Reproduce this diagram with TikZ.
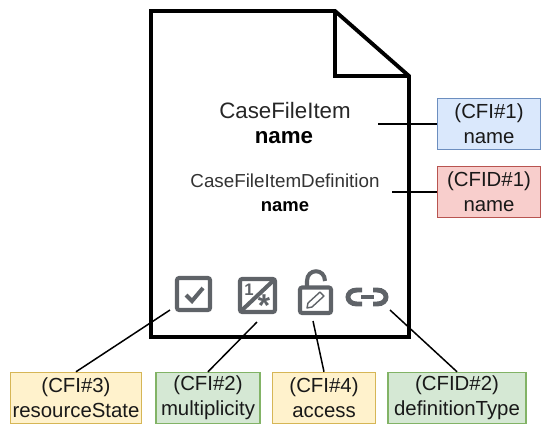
\documentclass[tikz,border=0pt]{standalone}
\usepackage{fontspec}
\setmainfont{Liberation Sans}
\definecolor{c1}{HTML}{DAE8FC}
\definecolor{c2}{HTML}{F8CECC}
\definecolor{c3}{HTML}{FFF2CC}
\definecolor{c4}{HTML}{D5E8D4}
\definecolor{d1}{HTML}{6C8EBF}
\definecolor{d2}{HTML}{B85450}
\definecolor{d3}{HTML}{D6B656}
\definecolor{d4}{HTML}{82B366}
\definecolor{icongray}{HTML}{5F6368}
\tikzset{
  attr/.style={rectangle, line width=0.85pt, minimum height=1.02cm, inner sep=0pt, align=center, text=black!90, font=\fontsize{11.6}{14.4}\selectfont},
  attr_blue/.style={attr, draw=d1, fill=c1},
  attr_red/.style={attr, draw=d2, fill=c2},
  attr_yellow/.style={attr, draw=d3, fill=c3},
  attr_green/.style={attr, draw=d4, fill=c4},
  lead/.style={line width=0.85pt, black},
  sheet/.style={line width=2.2pt, black, line join=miter},
  icon/.style={line width=2.3pt, icongray, rounded corners=1.2pt},
}

\begin{document}
\begin{tikzpicture}[x=0.02cm, y=-0.02cm]
    \useasboundingbox (0,0) rectangle (550,434);

    % the sheet
    \draw[sheet] (151,11) -- (335,11) -- (409,76) -- (409,337) -- (151,337) -- cycle;
    \draw[sheet] (335,11) -- (335,76) -- (409,76);

    \node[inner sep=0pt, text=black!85, font=\fontsize{12.7}{15}\selectfont] (item) at (285,111) {CaseFileItem};
    \node[inner sep=0pt, font=\fontsize{12.7}{15}\selectfont\bfseries] (itemname) at (284,138) {name};
    \node[inner sep=0pt, text=black!80, font=\fontsize{10.7}{13}\selectfont] (def) at (285,181) {CaseFileItemDefinition};
    \node[inner sep=0pt, font=\fontsize{10.5}{13}\selectfont\bfseries] (defname) at (285,207) {name};

    % attribute boxes
    \node[attr_blue, minimum width=2.06cm] (cfi1) at (489,124) {(CFI\#1)\\name};
    \node[attr_red, minimum width=2.06cm] (cfid1) at (489,192) {(CFID\#1)\\name};
    \node[attr_yellow, minimum width=2.62cm] (cfi3) at (76,398) {(CFI\#3)\\resourceState};
    \node[attr_green, minimum width=2.08cm] (cfi2) at (208,398) {(CFI\#2)\\multiplicity};
    \node[attr_yellow, minimum width=2.06cm] (cfi4) at (324,398) {(CFI\#4)\\access};
    \node[attr_green, minimum width=2.76cm] (cfid2) at (457,398) {(CFID\#2)\\definitionType};

    % free ends
    \coordinate (a1) at (378,124);
    \coordinate (a2) at (392,192);
    \coordinate (a3) at (170,310);
    \coordinate (a4) at (257,322);
    \coordinate (a5) at (313,321);
    \coordinate (a6) at (390,310);

    \draw[lead] (a1) -- (cfi1);
    \draw[lead] (a2) -- (cfid1);
    \draw[lead] (a3) -- (cfi3.north);
    \draw[lead] (a4) -- (cfi2.north);
    \draw[lead] (a5) -- (cfi4.north);
    \draw[lead] (a6) -- (cfid2.north);

    % checkbox
    \draw[icon] (177,278) rectangle (210,310);
    \draw[icon, rounded corners=0pt] (186,295) -- (192,301) -- (203,288);

    % multiplicity
    \draw[icon] (240,279) rectangle (275,312);
    \draw[icon, rounded corners=0pt] (240,312) -- (275,279);
    \node[inner sep=0pt, text=icongray, font=\fontsize{9.5}{10}\selectfont\bfseries] (one) at (249,290) {1};
    \node[inner sep=0pt, text=icongray, font=\fontsize{18}{18}\selectfont\bfseries] (star) at (264,306) {*};

    % lock
    \draw[icon] (300,287.5) rectangle (331,313);
    \draw[icon, rounded corners=0pt] (307,286) -- (307,281) .. controls (307,268) and (325,268) .. (325,281);
    \draw[icongray, line width=0.8pt, line join=round] (307,308) -- (308,303) -- (320,292) -- (324,296) -- (312,307) -- cycle;

    % link
    \draw[icon, line width=2.8pt, rounded corners=0pt] (362,290) -- (357,290) .. controls (345,290) and (345,304) .. (357,304) -- (362,304);
    \draw[icon, line width=2.8pt, rounded corners=0pt] (373,290) -- (377,290) .. controls (389,290) and (389,304) .. (377,304) -- (373,304);
    \draw[icon, line width=2.8pt, rounded corners=0pt] (361,297) -- (374,297);
  \end{tikzpicture}
\end{document}
